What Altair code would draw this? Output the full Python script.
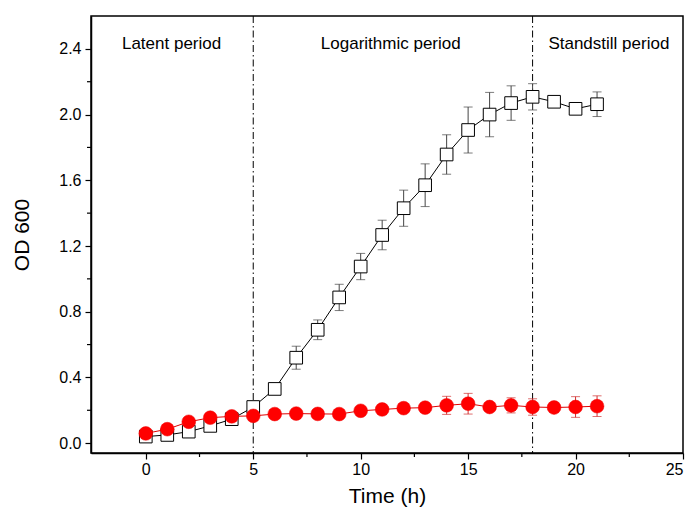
import altair as alt
import pandas as pd

time_h = list(range(22))
black_mean = [0.04, 0.05, 0.07, 0.105, 0.146, 0.22, 0.33, 0.52, 0.69, 0.887, 1.075,
              1.267, 1.43, 1.57, 1.757, 1.906, 2.0, 2.07, 2.108, 2.078, 2.035, 2.063]
black_sd = [0.01, 0.02, 0.02, 0.01, 0.02, 0.02, 0.02, 0.07, 0.06, 0.08, 0.08,
            0.09, 0.11, 0.13, 0.12, 0.14, 0.135, 0.105, 0.08, 0.0, 0.01, 0.075]
red_mean = [0.059, 0.085, 0.13, 0.155, 0.163, 0.166, 0.177, 0.18, 0.178, 0.177, 0.197,
            0.205, 0.213, 0.216, 0.23, 0.24, 0.22, 0.23, 0.22, 0.217, 0.22, 0.225]
red_sd = [0.01, 0.01, 0.01, 0.01, 0.01, 0.01, 0.01, 0.01, 0.01, 0.01, 0.01,
          0.01, 0.02, 0.02, 0.055, 0.063, 0.02, 0.046, 0.05, 0.02, 0.063, 0.063]

phase_bounds = [5, 18]
phase_labels = ["Latent period", "Logarithmic period", "Standstill period"]
phase_label_x = [1.2, 11.4, 21.55]
phase_label_y = [2.43, 2.43, 2.43]

x_major = [0, 5, 10, 15, 20, 25]
x_minor = [2.5, 7.5, 12.5, 17.5, 22.5]
y_major = [0.0, 0.4, 0.8, 1.2, 1.6, 2.0, 2.4]
y_minor = [0.2, 0.6, 1.0, 1.4, 1.8, 2.2]

FONT = "Liberation Sans"

black = pd.DataFrame({"t": time_h, "m": black_mean, "sd": black_sd})
black["lo"] = black["m"] - black["sd"]
black["hi"] = black["m"] + black["sd"]
red = pd.DataFrame({"t": time_h, "m": red_mean, "sd": red_sd})
red["lo"] = red["m"] - red["sd"]
red["hi"] = red["m"] + red["sd"]

xs = alt.Scale(domain=[-2.55, 25], nice=False, zero=False)
ys = alt.Scale(domain=[-0.06, 2.6], nice=False, zero=False)

xaxis = alt.Axis(values=x_major, title="Time (h)", grid=False, tickSize=6,
                 labelFontSize=16, titleFontSize=21, labelFont=FONT, titleFont=FONT,
                 labelColor="black", titleColor="black", domainColor="black",
                 tickColor="black", titleFontWeight="normal", labelPadding=2,
                 titlePadding=8, domainWidth=1.5, tickWidth=1.2)
yaxis = alt.Axis(values=y_major, format=".1f", title="OD 600", grid=False, tickSize=6,
                 labelFontSize=16, titleFontSize=21, labelFont=FONT, titleFont=FONT,
                 labelColor="black", titleColor="black", domainColor="black",
                 tickColor="black", titleFontWeight="normal", labelPadding=4,
                 titlePadding=26, domainWidth=1.5, tickWidth=1.2)

X = alt.X("t:Q", scale=xs, axis=xaxis)
Y = alt.Y("m:Q", scale=ys, axis=yaxis)


def series(df, color, bar_color, point_mark):
    base = alt.Chart(df)
    line = base.mark_line(color=color, strokeWidth=1).encode(x=X, y=Y)
    rule = base.mark_rule(color=bar_color, strokeWidth=1).encode(
        x=alt.X("t:Q", scale=xs), y=alt.Y("lo:Q", scale=ys), y2="hi:Q")
    cap_hi = base.mark_tick(color=bar_color, orient="horizontal", size=9, thickness=1).encode(
        x=alt.X("t:Q", scale=xs), y=alt.Y("hi:Q", scale=ys))
    cap_lo = base.mark_tick(color=bar_color, orient="horizontal", size=9, thickness=1).encode(
        x=alt.X("t:Q", scale=xs), y=alt.Y("lo:Q", scale=ys))
    pts = base.mark_point(**point_mark).encode(
        x=alt.X("t:Q", scale=xs), y=alt.Y("m:Q", scale=ys))
    return [line, rule, cap_hi, cap_lo, pts]


black_layers = series(black, "black", "#444444",
                      dict(shape="square", size=160, filled=True, fill="white",
                           stroke="black", strokeWidth=1, opacity=1))
red_layers = series(red, "#e00000", "#d03030",
                    dict(shape="circle", size=190, filled=True, fill="#ff0000",
                         stroke="#ee0000", strokeWidth=0.5, opacity=1))

vlines = alt.Chart(pd.DataFrame({"t": phase_bounds})).mark_rule(
    color="black", strokeWidth=1, strokeDash=[7, 3, 1.5, 3]).encode(
    x=alt.X("t:Q", scale=xs))

labels = alt.Chart(pd.DataFrame({"t": phase_label_x, "y": phase_label_y,
                                 "lab": phase_labels})).mark_text(
    font=FONT, fontSize=17, color="black", align="center", baseline="middle").encode(
    x=alt.X("t:Q", scale=xs), y=alt.Y("y:Q", scale=ys), text="lab:N")

xminor = alt.Chart(pd.DataFrame({"t": x_minor})).mark_rule(
    color="black", strokeWidth=1.2).encode(
    x=alt.X("t:Q", scale=xs), y=alt.value(437), y2=alt.value(441))
yminor = alt.Chart(pd.DataFrame({"y": y_minor})).mark_rule(
    color="black", strokeWidth=1.2).encode(
    y=alt.Y("y:Q", scale=ys), x=alt.value(-4), x2=alt.value(0))

chart = alt.layer(
    vlines, *black_layers, *red_layers, labels, xminor, yminor
).properties(
    width=592, height=437,
    autosize=alt.AutoSizeParams(type="none"),
    padding={"left": 83, "top": 8, "right": 4, "bottom": 56},
).configure_view(stroke="black", strokeWidth=1.5)

chart.save("out.html", embed_options={"renderer": "svg", "actions": False})
